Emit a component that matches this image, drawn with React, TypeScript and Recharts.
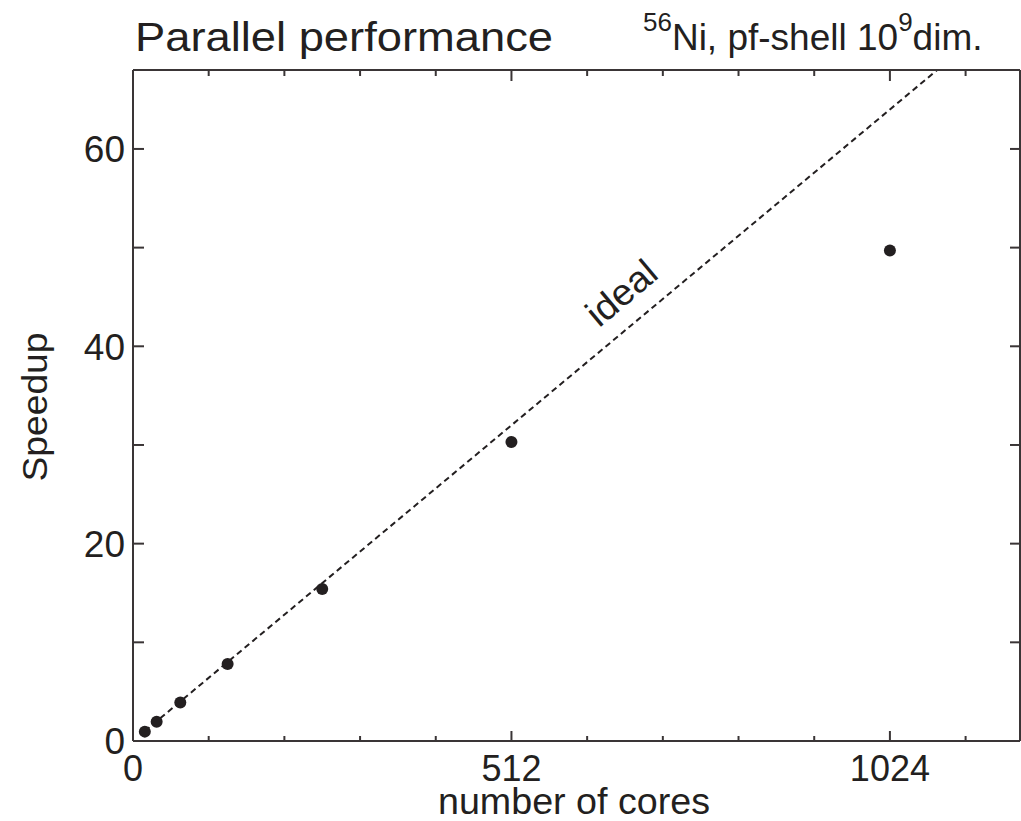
import React from 'react';
import {
  ComposedChart,
  XAxis,
  YAxis,
  Scatter,
  Line,
  ReferenceDot,
} from 'recharts';

// ---- data ----
const cores = [16, 32, 64, 128, 256, 512, 1024];
const speedup = [0.95, 1.95, 3.9, 7.8, 15.4, 30.3, 49.7];

const idealCores = [16, 1088];
const idealSpeedup = [1, 68];

const xTicks = [0, 102.4, 204.8, 307.2, 409.6, 512, 614.4, 716.8, 819.2, 921.6, 1024, 1126.4];
const xLabeled = [0, 512, 1024];
const yTicks = [0, 10, 20, 30, 40, 50, 60];
const yLabeled = [0, 20, 40, 60];

const idealLabelAt = { cores: 661, speedup: 45.4 };

const measured = cores.map((c, i) => ({ cores: c, speedup: speedup[i] }));
const ideal = idealCores.map((c, i) => ({ cores: c, speedup: idealSpeedup[i] }));

// ---- styles ----
const INK = '#231f20';
const AXIS = '#3a3536';
const FONT = '"Liberation Sans", Arial, Helvetica, sans-serif';

const BottomTick = (props: any) => {
  const { x, y, payload } = props;
  const v = payload.value;
  const major = xLabeled.includes(v);
  return (
    <g>
      {v !== 0 && (
        <line x1={x} x2={x} y1={y} y2={y - (major ? 10 : 5)} stroke={AXIS} strokeWidth={2} />
      )}
      {major && (
        <text x={x} y={y + 40} textAnchor="middle" fontSize={36} fill={INK} fontFamily={FONT}>
          {v}
        </text>
      )}
    </g>
  );
};

const TopTick = (props: any) => {
  const { x, y, payload } = props;
  const v = payload.value;
  const major = xLabeled.includes(v);
  if (v === 0) return <g />;
  return <line x1={x} x2={x} y1={y} y2={y + (major ? 11 : 6)} stroke={AXIS} strokeWidth={2} />;
};

const LeftTick = (props: any) => {
  const { x, y, payload } = props;
  const v = payload.value;
  const major = yLabeled.includes(v);
  return (
    <g>
      {v !== 0 && <line x1={x} x2={x + 11} y1={y} y2={y} stroke={AXIS} strokeWidth={2} />}
      {major && (
        <text x={x - 8} y={y} dy="0.36em" textAnchor="end" fontSize={37} fill={INK} fontFamily={FONT}>
          {v}
        </text>
      )}
    </g>
  );
};

const RightTick = (props: any) => {
  const { x, y, payload } = props;
  const v = payload.value;
  if (v === 0) return <g />;
  return <line x1={x} x2={x - 10} y1={y} y2={y} stroke={AXIS} strokeWidth={2} />;
};

const Dot = (props: any) => <circle cx={props.cx} cy={props.cy} r={6} fill={INK} />;

const IdealLabel = (props: any) => {
  const vb = props.viewBox || {};
  const cx = (vb.x ?? 0) + (vb.width ?? 0) / 2;
  const cy = (vb.y ?? 0) + (vb.height ?? 0) / 2;
  return (
    <text
      x={cx}
      y={cy}
      textAnchor="middle"
      dominantBaseline="central"
      fontSize={37}
      fill={INK}
      fontFamily={FONT}
      textLength={80}
      lengthAdjust="spacingAndGlyphs"
      transform={`rotate(-40 ${cx} ${cy})`}
    >
      ideal
    </text>
  );
};

export default function App() {
  return (
    <div style={{ position: 'absolute', left: 0, top: 0, width: 1021, height: 821, background: '#fff' }}>
      <ComposedChart
        width={1021}
        height={821}
        margin={{ top: 69, right: 0, bottom: 79, left: 132 }}
      >
        <XAxis
          xAxisId="bottom"
          type="number"
          dataKey="cores"
          orientation="bottom"
          domain={[0, 1200]}
          ticks={xTicks}
          interval={0}
          allowDataOverflow
          height={1}
          tickSize={0}
          tickMargin={0}
          tickLine={false}
          axisLine={{ stroke: AXIS, strokeWidth: 2 }}
          tick={BottomTick}
        />
        <XAxis
          xAxisId="top"
          type="number"
          dataKey="cores"
          orientation="top"
          domain={[0, 1200]}
          ticks={xTicks}
          interval={0}
          allowDataOverflow
          height={1}
          tickSize={0}
          tickMargin={0}
          tickLine={false}
          axisLine={{ stroke: AXIS, strokeWidth: 2 }}
          tick={TopTick}
        />
        <YAxis
          yAxisId="left"
          type="number"
          dataKey="speedup"
          orientation="left"
          domain={[0, 68]}
          ticks={yTicks}
          interval={0}
          allowDataOverflow
          width={1}
          tickSize={0}
          tickMargin={0}
          tickLine={false}
          axisLine={{ stroke: AXIS, strokeWidth: 2 }}
          tick={LeftTick}
        />
        <YAxis
          yAxisId="right"
          type="number"
          dataKey="speedup"
          orientation="right"
          domain={[0, 68]}
          ticks={yTicks}
          interval={0}
          allowDataOverflow
          width={1}
          tickSize={0}
          tickMargin={0}
          tickLine={false}
          axisLine={{ stroke: AXIS, strokeWidth: 2 }}
          tick={RightTick}
        />
        <Line
          xAxisId="bottom"
          yAxisId="left"
          data={ideal}
          dataKey="speedup"
          type="linear"
          stroke={INK}
          strokeWidth={2}
          strokeDasharray="6 4"
          dot={false}
          activeDot={false}
          isAnimationActive={false}
        />
        <Scatter
          xAxisId="bottom"
          yAxisId="left"
          data={measured}
          dataKey="speedup"
          fill={INK}
          shape={Dot}
          isAnimationActive={false}
        />
        <ReferenceDot
          xAxisId="bottom"
          yAxisId="left"
          x={idealLabelAt.cores}
          y={idealLabelAt.speedup}
          r={1}
          fill="none"
          stroke="none"
          label={(p: any) => <IdealLabel {...p} />}
        />
      </ComposedChart>
      <svg
        width={1021}
        height={821}
        style={{ position: 'absolute', left: 0, top: 0, pointerEvents: 'none' }}
      >
        <g fill={INK} fontFamily={FONT}>
          <text x={135} y={51} fontSize={40} textLength={418} lengthAdjust="spacingAndGlyphs">
            Parallel performance
          </text>
          <text x={643} y={50} fontSize={37}>
            <tspan y={31} fontSize={26}>56</tspan>
            <tspan y={50}>Ni, pf-shell 10</tspan>
            <tspan y={31} fontSize={26}>9</tspan>
            <tspan y={50}>dim.</tspan>
          </text>
          <text x={574} y={814} fontSize={36} textAnchor="middle" textLength={272} lengthAdjust="spacingAndGlyphs">
            number of cores
          </text>
          <text
            x={47}
            y={407}
            fontSize={35}
            textAnchor="middle"
            textLength={149}
            lengthAdjust="spacingAndGlyphs"
            transform="rotate(-90 47 407)"
          >
            Speedup
          </text>
        </g>
      </svg>
    </div>
  );
}
